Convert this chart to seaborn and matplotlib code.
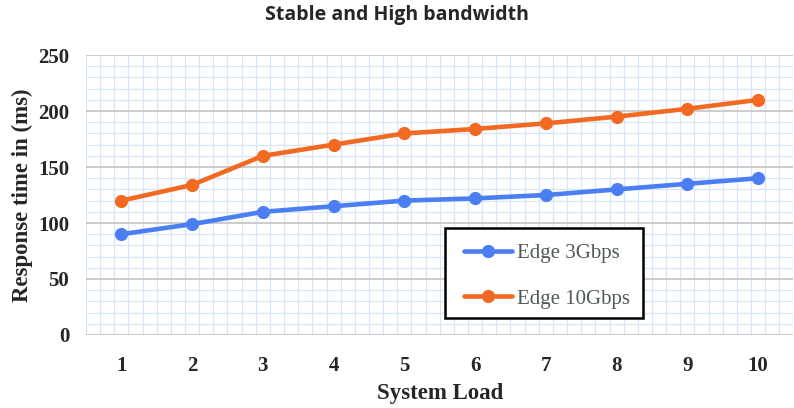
import matplotlib
matplotlib.use("Agg")
import matplotlib.pyplot as plt
import seaborn as sns
import pandas as pd
import numpy as np
from matplotlib.ticker import MultipleLocator, FixedLocator
from matplotlib.patches import Rectangle

loads = [1, 2, 3, 4, 5, 6, 7, 8, 9, 10]
edge_3g = [90, 99, 110, 115, 120, 122, 125, 130, 135, 140]
edge_10g = [120, 134, 160, 170, 180, 184, 189, 195, 202, 210]
series = ["Edge 3Gbps", "Edge 10Gbps"]
colors = ["#4a7ef2", "#f26a22"]

df = pd.DataFrame({
    "load": loads * 2,
    "resp": edge_3g + edge_10g,
    "series": [series[0]] * len(loads) + [series[1]] * len(loads),
})

sns.set_style("white")
fig = plt.figure(figsize=(7.94, 4.08), dpi=100)
ax = fig.add_axes([0.1083, 0.179, 0.891, 0.686])

sns.lineplot(data=df, x="load", y="resp", hue="series", palette=colors,
             marker="o", markersize=9.5, markeredgewidth=0, linewidth=3.3,
             ax=ax, zorder=3)

ax.set_xlim(0.5, 10.5)
ax.set_ylim(0, 250)
ax.xaxis.set_major_locator(FixedLocator(loads))
ax.xaxis.set_minor_locator(FixedLocator(np.arange(0.5, 10.51, 0.2)))
ax.yaxis.set_major_locator(MultipleLocator(50))
ax.yaxis.set_minor_locator(MultipleLocator(10))
ax.grid(which="minor", color="#d6e6f7", linewidth=0.9)
ax.grid(which="major", axis="y", color="#c8c8c8", linewidth=1.3)
ax.grid(which="major", axis="x", visible=False)
ax.set_axisbelow(True)
ax.tick_params(which="both", length=0)
ax.tick_params(axis="x", pad=15)
ax.tick_params(axis="y", pad=12)
for s in ax.spines.values():
    s.set_visible(False)

for lab in ax.get_xticklabels() + ax.get_yticklabels():
    lab.set_fontfamily("Liberation Serif")
    lab.set_fontweight("bold")
    lab.set_fontsize(15)

ax.set_xlabel("System Load", fontfamily="Liberation Serif", fontweight="bold",
              fontsize=16.5, labelpad=5)
ax.set_ylabel("Response time in (ms)", fontfamily="Liberation Serif",
              fontweight="bold", fontsize=16.5, labelpad=4)
fig.text(0.5, 0.963, "Stable and High bandwidth", ha="center", va="center",
         fontfamily="Open Sans", fontweight="bold", fontsize=14)

# legend box drawn separately so the entries can sit with the reference's inset
ax.add_patch(Rectangle((0.507, 0.0607), 0.2797, 0.321, transform=ax.transAxes,
                       facecolor="white", edgecolor="black", linewidth=1.8,
                       zorder=4))
leg = ax.legend(loc="center left", bbox_to_anchor=(0.535, 0.211),
                borderaxespad=0, borderpad=0, frameon=False,
                handlelength=2.3, handletextpad=0.2, labelspacing=1.25,
                prop={"family": "Liberation Serif", "size": 15})
leg.set_zorder(5)
for t in leg.get_texts():
    t.set_color("#4f5858")

fig.savefig("out.png", dpi=100)
